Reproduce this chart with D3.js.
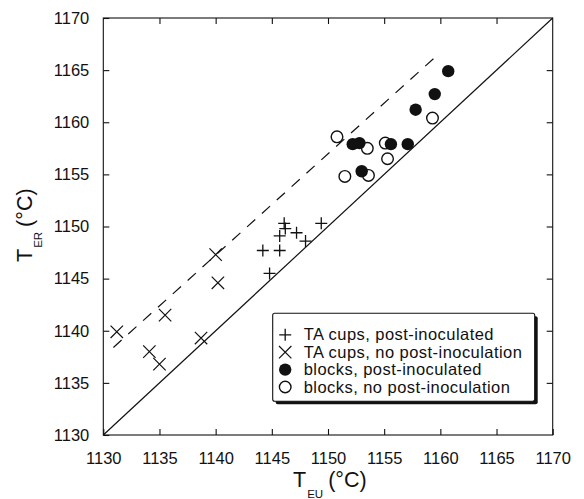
<!DOCTYPE html>
<html>
<head>
<meta charset="utf-8">
<script src="https://cdn.jsdelivr.net/npm/d3@7"></script>
<style>
  html, body { margin: 0; padding: 0; background: #fff; }
  svg { display: block; font-family: "Liberation Sans", Arial, Helvetica, sans-serif; }
</style>
</head>
<body>
<svg id="chart" width="584" height="499"></svg>
<script>
// ---- data ----
const xTicks = [1130, 1135, 1140, 1145, 1150, 1155, 1160, 1165, 1170];
const yTicks = [1130, 1135, 1140, 1145, 1150, 1155, 1160, 1165, 1170];

// TA cups, post-inoculated (+)
const cupsPostX = [1144.2, 1144.8, 1145.7, 1145.7, 1146.1, 1146.2, 1147.2, 1148.0, 1149.4];
const cupsPostY = [1147.7, 1145.5, 1147.7, 1149.1, 1150.3, 1149.8, 1149.4, 1148.6, 1150.3];

// TA cups, no post-inoculation (x)
const cupsNoX = [1131.2, 1134.1, 1135.0, 1135.5, 1138.7, 1140.0, 1140.2];
const cupsNoY = [1139.9, 1138.0, 1136.8, 1141.5, 1139.3, 1147.3, 1144.6];

// blocks, post-inoculated (filled circles)
const blocksPostX = [1160.7, 1159.5, 1157.8, 1152.2, 1152.8, 1155.6, 1157.1, 1153.0];
const blocksPostY = [1164.9, 1162.7, 1161.2, 1157.9, 1158.0, 1157.9, 1157.9, 1155.3];

// blocks, no post-inoculation (open circles)
const blocksNoX = [1150.8, 1153.5, 1155.1, 1155.3, 1159.3, 1151.5, 1153.6];
const blocksNoY = [1158.6, 1157.5, 1158.0, 1156.5, 1160.4, 1154.8, 1154.9];

// reference lines
const oneToOneX = [1130, 1170];
const oneToOneY = [1130, 1170];
const dashedX = [1130.9, 1159.8];
const dashedY = [1138.4, 1166.5];

const legendLabels = [
  "TA cups, post-inoculated",
  "TA cups, no post-inoculation",
  "blocks, post-inoculated",
  "blocks, no post-inoculation"
];
const legendSymbols = ["plus", "cross", "filled", "open"];

// ---- layout ----
const svg = d3.select("#chart");
const L = 103.3, R = 552.7, T = 18, B = 435;
const x = d3.scaleLinear().domain([1130, 1170]).range([L, R]);
const y = d3.scaleLinear().domain([1130, 1170]).range([B, T]);
const ink = "#111";

// reference lines (behind points)
const line = d3.line().x(d => x(d[0])).y(d => y(d[1]));
svg.append("path")
  .attr("d", line(d3.zip(oneToOneX, oneToOneY)))
  .attr("fill", "none").attr("stroke", ink).attr("stroke-width", 1.2);
svg.append("path")
  .attr("d", line(d3.zip(dashedX, dashedY)))
  .attr("fill", "none").attr("stroke", ink).attr("stroke-width", 1.2)
  .attr("stroke-dasharray", "11,9");

// axes with inward ticks
const tickLen = 6;
const fmt = d3.format("d");
const gB = svg.append("g").attr("transform", `translate(0,${B})`)
  .call(d3.axisBottom(x).tickValues(xTicks).tickFormat(fmt).tickSizeInner(-tickLen).tickSizeOuter(0).tickPadding(17));
const gL = svg.append("g").attr("transform", `translate(${L},0)`)
  .call(d3.axisLeft(y).tickValues(yTicks).tickFormat(fmt).tickSizeInner(-tickLen).tickSizeOuter(0).tickPadding(14));
const gT = svg.append("g").attr("transform", `translate(0,${T})`)
  .call(d3.axisTop(x).tickValues(xTicks.slice(1, -1)).tickFormat("").tickSizeInner(-tickLen).tickSizeOuter(0));
const gR = svg.append("g").attr("transform", `translate(${R},0)`)
  .call(d3.axisRight(y).tickValues(yTicks.slice(1, -1)).tickFormat("").tickSizeInner(-tickLen).tickSizeOuter(0));

[gB, gL, gT, gR].forEach(g => {
  g.select(".domain").remove();
  g.selectAll(".tick line").attr("stroke", ink).attr("stroke-width", 1.1);
  g.selectAll(".tick text").attr("fill", ink).attr("font-size", 16.5)
    .attr("font-family", "\"Liberation Sans\", Arial, sans-serif");
});
// frame
svg.append("rect").attr("x", L).attr("y", T).attr("width", R - L).attr("height", B - T)
  .attr("fill", "none").attr("stroke", ink).attr("stroke-width", 1.1);

// ---- markers ----
const sz = 6;
function drawMarker(g, type, cx, cy) {
  if (type === "plus") {
    g.append("path").attr("d", `M${cx - sz},${cy}H${cx + sz}M${cx},${cy - sz}V${cy + sz}`)
      .attr("stroke", ink).attr("stroke-width", 1.3).attr("fill", "none");
  } else if (type === "cross") {
    const s = 6.2;
    g.append("path").attr("d", `M${cx - s},${cy - s}L${cx + s},${cy + s}M${cx - s},${cy + s}L${cx + s},${cy - s}`)
      .attr("stroke", ink).attr("stroke-width", 1.2).attr("fill", "none");
  } else if (type === "filled") {
    g.append("circle").attr("cx", cx).attr("cy", cy).attr("r", 6.2).attr("fill", ink);
  } else {
    g.append("circle").attr("cx", cx).attr("cy", cy).attr("r", 5.8)
      .attr("fill", "#fff").attr("stroke", ink).attr("stroke-width", 1.4);
  }
}
const pts = svg.append("g");
d3.zip(blocksNoX, blocksNoY).forEach(d => drawMarker(pts, "open", x(d[0]), y(d[1])));
d3.zip(blocksPostX, blocksPostY).forEach(d => drawMarker(pts, "filled", x(d[0]), y(d[1])));
d3.zip(cupsNoX, cupsNoY).forEach(d => drawMarker(pts, "cross", x(d[0]), y(d[1])));
d3.zip(cupsPostX, cupsPostY).forEach(d => drawMarker(pts, "plus", x(d[0]), y(d[1])));

// ---- legend ----
const lg = svg.append("g");
const lx = 272.7, ly = 313.3, lw = 262, lh = 88;
lg.append("rect").attr("x", lx + 3).attr("y", ly + 3).attr("width", lw).attr("height", lh)
  .attr("fill", ink).attr("rx", 2);
lg.append("rect").attr("x", lx).attr("y", ly).attr("width", lw).attr("height", lh)
  .attr("fill", "#fff").attr("stroke", ink).attr("stroke-width", 1.1).attr("rx", 2);
legendLabels.forEach((lab, i) => {
  const cy = ly + 21.5 + i * 17.4;
  drawMarker(lg, legendSymbols[i], lx + 12.5, cy);
  lg.append("text").attr("x", lx + 31).attr("y", cy + 5.5)
    .attr("font-size", 16.5).attr("letter-spacing", 0.45).attr("fill", ink).text(lab);
});

// ---- axis titles ----
const xt = svg.append("text").attr("x", 293).attr("y", 487).attr("font-size", 21.5).attr("fill", ink);
xt.append("tspan").text("T");
xt.append("tspan").attr("font-size", 11.5).attr("dy", 10.5).attr("dx", 1).text("EU");
xt.append("tspan").attr("dy", -10.5).attr("dx", 5).text("(°C)");

const yt = svg.append("text").attr("transform", "translate(32,262) rotate(-90)")
  .attr("font-size", 21.5).attr("fill", ink);
yt.append("tspan").text("T");
yt.append("tspan").attr("font-size", 11.5).attr("dy", 10).attr("dx", 1).text("ER");
yt.append("tspan").attr("dy", -10).attr("dx", 5).text("(°C)");
</script>
</body>
</html>
